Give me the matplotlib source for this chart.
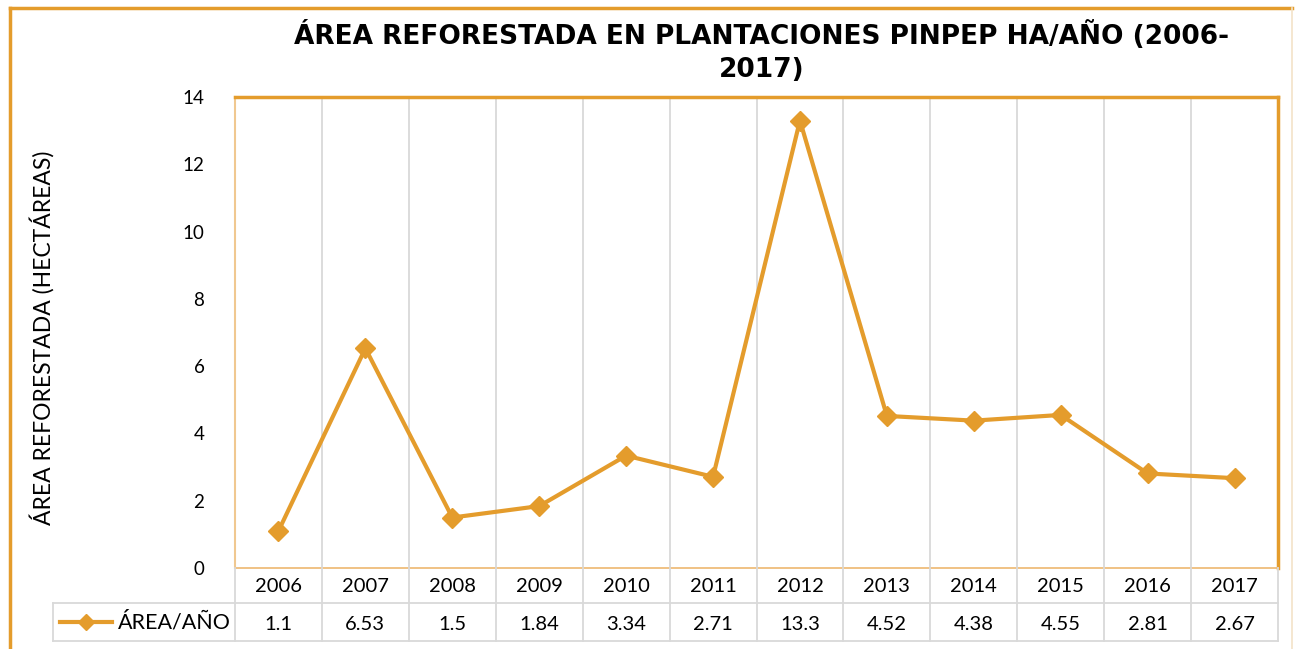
import matplotlib
matplotlib.use("Agg")
import matplotlib.pyplot as plt
from matplotlib.lines import Line2D
from matplotlib.transforms import blended_transform_factory

years = ["2006", "2007", "2008", "2009", "2010", "2011", "2012", "2013", "2014", "2015", "2016", "2017"]
values = [1.1, 6.53, 1.5, 1.84, 3.34, 2.71, 13.3, 4.52, 4.38, 4.55, 2.81, 2.67]
value_labels = ["1.1", "6.53", "1.5", "1.84", "3.34", "2.71", "13.3", "4.52", "4.38", "4.55", "2.81", "2.67"]
series_name = "ÁREA/AÑO"
title = "ÁREA REFORESTADA EN PLANTACIONES PINPEP HA/AÑO (2006-\n2017)"
ylabel = "ÁREA REFORESTADA (HECTÁREAS)"
yticks = [0, 2, 4, 6, 8, 10, 12, 14]

ORANGE = "#E49C2C"
GRID = "#D9D9D9"
FONT = ["Lato", "DejaVu Sans"]

W, H = 1296, 649
fig = plt.figure(figsize=(W / 100, H / 100), dpi=100)

def fx(px):
    return px / W

def fy(py):
    return 1 - py / H

L, R, T, B = 235, 1278, 97, 568
ax = fig.add_axes([fx(L), fy(B), fx(R) - fx(L), fy(T) - fy(B)])
n = len(years)
x = list(range(n))
ax.plot(x, values, color=ORANGE, lw=3, marker="D", ms=10, zorder=5, clip_on=False)
ax.set_xlim(-0.5, n - 0.5)
ax.set_ylim(0, 14)
ax.set_yticks(yticks)
ax.set_yticklabels([str(v) for v in yticks], fontsize=13.5, family=FONT)
ax.tick_params(axis="y", length=0, pad=22)
ax.set_xticks([])
for i in range(1, n):
    ax.axvline(i - 0.5, color=GRID, lw=1.3, zorder=1)
ax.spines["top"].set_color(ORANGE)
ax.spines["top"].set_linewidth(2.5)
ax.spines["right"].set_color(ORANGE)
ax.spines["right"].set_linewidth(2.5)
ax.spines["left"].set_color("#F0C890")
ax.spines["left"].set_linewidth(1.5)
ax.spines["bottom"].set_color("#EDB870")
ax.spines["bottom"].set_linewidth(1.2)

# Y label
fig.text(fx(42), fy(338), ylabel, rotation=90, ha="center", va="center",
         fontsize=16.5, family=FONT)

# Title
fig.text(fx(762), fy(52), title, ha="center", va="center", fontsize=19,
         fontweight="bold", family=["DejaVu Sans"], linespacing=1.35)

# Data table
tr = blended_transform_factory(ax.transData, fig.transFigure)
y_row1_top, y_row1_bot, y_row2_bot = 568, 603, 641
for i in range(n):
    ax.text(i, fy((y_row1_top + y_row1_bot) / 2 + 1), years[i], transform=tr,
            ha="center", va="center", fontsize=14.5, family=FONT, clip_on=False)
    ax.text(i, fy((y_row1_bot + y_row2_bot) / 2 + 2), value_labels[i], transform=tr,
            ha="center", va="center", fontsize=14.5, family=FONT, clip_on=False)

# table lines
lines = []
for i in range(n + 1):
    xp = L + (R - L) * i / n
    lines.append(Line2D([fx(xp), fx(xp)], [fy(y_row1_top), fy(y_row2_bot)], color=GRID, lw=1.3))
lines.append(Line2D([fx(53), fx(R)], [fy(y_row1_bot), fy(y_row1_bot)], color=GRID, lw=1.3))
lines.append(Line2D([fx(53), fx(R)], [fy(y_row2_bot), fy(y_row2_bot)], color=GRID, lw=1.3))
lines.append(Line2D([fx(53), fx(53)], [fy(y_row1_bot), fy(y_row2_bot)], color=GRID, lw=1.3))
# legend key
ym = fy((y_row1_bot + y_row2_bot) / 2)
lines.append(Line2D([fx(60), fx(112)], [ym, ym], color=ORANGE, lw=3))
lines.append(Line2D([fx(86)], [ym], color=ORANGE, marker="D", ms=8, lw=0))
# outer frame
lines.append(Line2D([fx(10), fx(10)], [fy(8), fy(H + 5)], color=ORANGE, lw=2.5))
lines.append(Line2D([fx(10), fx(1292)], [fy(8), fy(8)], color=ORANGE, lw=2.5))
lines.append(Line2D([fx(1292), fx(1292)], [fy(8), fy(H + 5)], color="#F3E3C8", lw=1.2))
for ln in lines:
    fig.add_artist(ln)
fig.text(fx(118), ym, series_name, ha="left", va="center", fontsize=15.5, family=FONT)

fig.savefig("out.png", dpi=100)
